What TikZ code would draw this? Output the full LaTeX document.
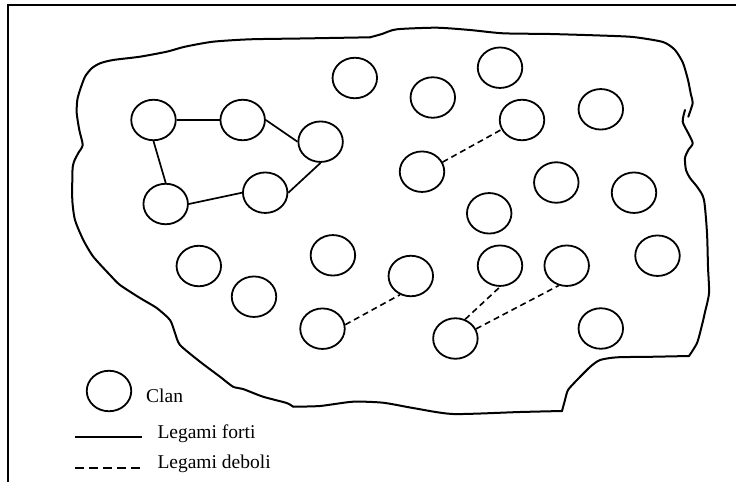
\documentclass[tikz,border=0pt]{standalone}
\usepackage{fontspec}
\setmainfont{Liberation Serif}
\usetikzlibrary{shapes.geometric}
\tikzset{
  clan/.style={ellipse, draw, line width=1.8pt, minimum width=44.5pt, minimum height=40.5pt, inner sep=0pt},
  strong/.style={line width=1.7pt},
  weak/.style={line width=1.6pt, dash pattern=on 6pt off 4pt},
  blob/.style={line width=2pt, line join=round, line cap=round},
  legtext/.style={anchor=base west, inner sep=0pt, font=\fontsize{19.5}{23}\selectfont}
}
\begin{document}
\begin{tikzpicture}[x=1pt, y=-1pt]
\useasboundingbox (0,0) rectangle (736,482);
% frame (only left and top edges visible)
\draw[line width=1.6pt] (8,482) -- (8,5) -- (736,5);
% territory outline
\draw[blob] plot[smooth, tension=0.45] coordinates {
(685,110) (682.7,121.7) (688.3,133.3) (692.7,143.3) (688.3,150) (685,158) (686,170) (690,178) (698,188) (704,200) (707,233) (708,267) (709,293) (705,312) (702,325) (697,343) (689,356)};
\draw[blob] plot[smooth, tension=0.4] coordinates {
(689,356) (650,356.8) (617,357.3) (600,360) (590,367) (577,380) (568,390) (565,400) (562,411)};
\draw[blob] plot[smooth, tension=0.4] coordinates {
(562,411) (520,412) (453,414) (413,408) (383,402.7) (353,401.7) (320,406) (293,406.7)};
\draw[blob] plot[smooth, tension=0.4] coordinates {
(293,406.7) (286.7,403) (263,396.7) (243,389) (233,386.7) (220,376.7) (200,361.7) (180,345) (175,333) (170,320) (156.7,308) (140,298) (120,285) (110,275) (93.3,256.7) (83.3,240) (75,220) (72.3,200) (72.5,170) (74,161.7) (78.3,153) (82.7,145) (79.3,130) (76.7,113) (77.3,100) (80,90) (85,76.7) (91.7,68.3) (100,63.3) (113,60) (140,56.7) (166.7,51.7) (185,46.7) (213,41.7) (250,39.3) (300,38.5) (370,37.3)};
\draw[blob] plot[smooth, tension=0.4] coordinates {
(370,37.3) (382,34) (396.7,29.3) (436.7,27.7) (470,30) (503,33.3) (550,34) (600,35.5) (633,37) (663,42) (675,50) (683,63) (688,80) (691,95) (692.7,103) (688.3,116.7)};
% clans
\node[clan] (c1) at (153.5,120) {};
\node[clan] (c2) at (242.7,120) {};
\node[clan] (c3) at (320.6,141.7) {};
\node[clan] (c4) at (165.7,204) {};
\node[clan] (c5) at (265.2,192.7) {};
\node[clan] (c6) at (354.8,78) {};
\node[clan] (c7) at (432.8,97.5) {};
\node[clan] (c8) at (500,67.7) {};
\node[clan] (c9) at (522,120) {};
\node[clan] (c10) at (600.8,109.3) {};
\node[clan] (c11) at (422,171.7) {};
\node[clan] (c12) at (556.3,182.5) {};
\node[clan] (c13) at (634,192.7) {};
\node[clan] (c14) at (489.2,213.3) {};
\node[clan] (c15) at (198.8,266) {};
\node[clan] (c16) at (332.9,255.3) {};
\node[clan] (c17) at (254,296.7) {};
\node[clan] (c18) at (410.8,276) {};
\node[clan] (c19) at (500,265.7) {};
\node[clan] (c20) at (566.7,265.7) {};
\node[clan] (c21) at (657.5,255.7) {};
\node[clan] (c22) at (322.5,328.7) {};
\node[clan] (c23) at (455.4,338.5) {};
\node[clan] (c24) at (600.8,328.5) {};
% strong ties
\draw[strong] (c1.east) -- (c2.west);
\draw[strong] (c2.east) -- (c3.west);
\draw[strong] (c1.south) -- (c4.north);
\draw[strong] (c4.east) -- (c5.west);
\draw[strong] (c5.east) -- (c3.south);
% weak ties
\draw[weak] (c11.25) -- (c9.205);
\draw[weak] (c22.10) -- (c18.240);
\draw[weak] (c23.63) -- (c19.south);
\draw[weak] (c23.25) -- (c20.248);
% legend
\node[clan] (lc) at (109,391) {};
\node[legtext] (lclan) at (146,402.5) {Clan};
\coordinate (ls1) at (75,437);
\coordinate (ls2) at (142,437);
\draw[line width=1.7pt] (ls1) -- (ls2);
\node[legtext] (lforti) at (157.3,438) {Legami forti};
\coordinate (lw1) at (75,467.8);
\coordinate (lw2) at (139.5,467.8);
\draw[line width=1.7pt, dash pattern=on 8.5pt off 5.5pt] (lw1) -- (lw2);
\node[legtext] (ldeboli) at (157.3,468.3) {Legami deboli};
\end{tikzpicture}
\end{document}
